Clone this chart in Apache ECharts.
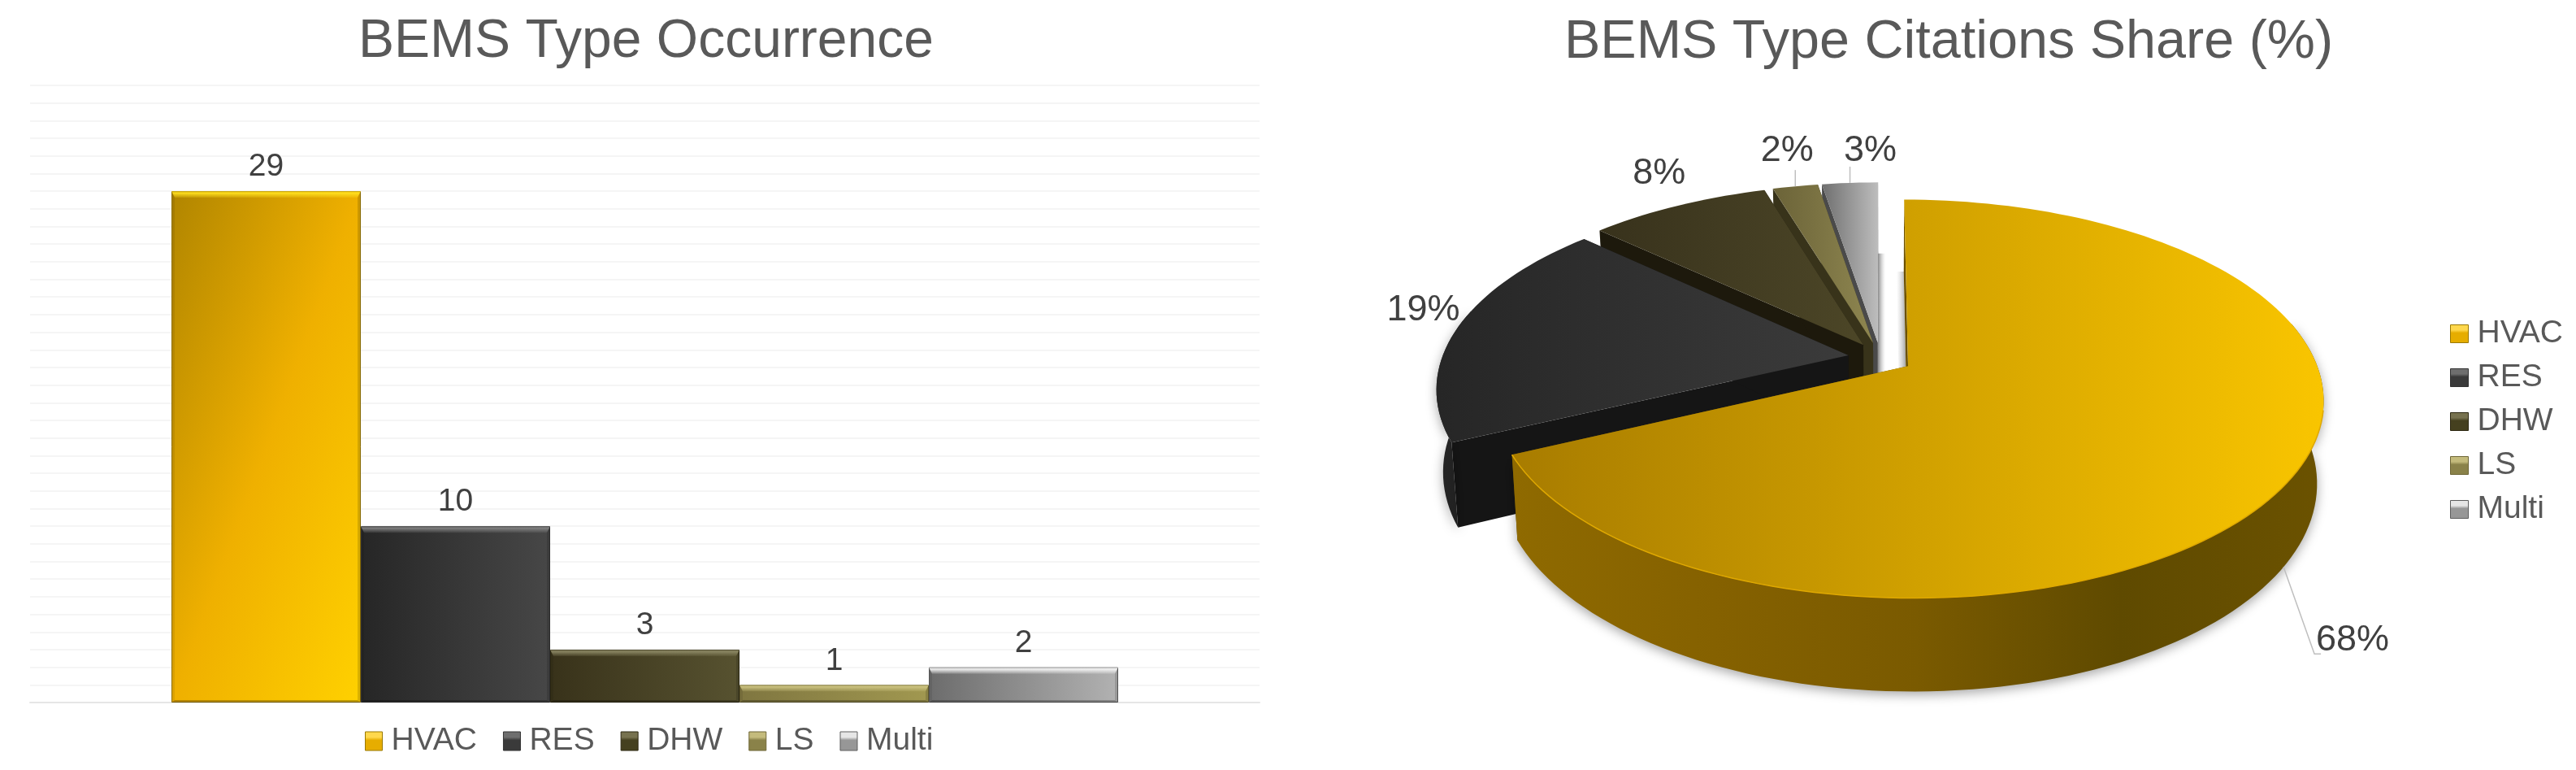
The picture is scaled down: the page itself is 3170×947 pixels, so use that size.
<!DOCTYPE html>
<html lang="en">

<head>
    <meta charset="UTF-8">
    <title>BEMS Type</title>
    <style>
        * {
            margin: 0;
            padding: 0;
        }

        html,
        body {
            height: 100%;
            background: #fff;
        }

        #box {
            width: 3170px;
            height: 947px;
        }
    </style>
    <script src="https://cdn.jsdelivr.net/npm/echarts@6/dist/echarts.min.js"></script>
</head>

<body>
    <div id="box"></div>

    <script>
        // data
        var types = ['HVAC', 'RES', 'DHW', 'LS', 'Multi'];
        var occurrence = [29, 10, 3, 1, 2];
        // unrounded estimates, the labels show them rounded
        var citationShare = [68, 18.9, 8.4, 2.1, 2.6];

        var fontName = '"Liberation Sans", Arial, sans-serif';
        var Gradient = echarts.graphic.LinearGradient;

        function hGrad(stops) {
            return new Gradient(0, 0, 1, 0, stops.map(function (c, i) {
                return { offset: i / (stops.length - 1), color: c };
            }));
        }

        // bar fills
        var barFill = [
            // corner to corner, so left-right counts as much as top-bottom on the tall bar
            new Gradient(0, 0, 1.76, 0.24, [
                { offset: 0, color: '#b08500' },
                { offset: 0.5, color: '#efb000' },
                { offset: 1, color: '#ffd100' }
            ]),
            hGrad(['#262626', '#474747']),
            hGrad(['#38321a', '#575230']),
            hGrad(['#7f7640', '#a19850']),
            hGrad(['#6c6c6c', '#b2b2b2'])
        ];
        var barBorder = ['#9a7800', '#333333', '#2d2812', '#6e6636', '#5e5e5e'];
        var bevelTop = ['255,224,32', '130,130,130', '140,136,100', '205,196,130', '245,245,245'];
        var legendTop = ['#ffd84d', '#6e6e6e', '#77724f', '#c4bb7c', '#e6e6e6'];
        var legendBody = ['#e6ad00', '#3a3a3a', '#45401f', '#8a8249', '#979797'];

        // pie fills
        var topFill = [
            hGrad(['#a87c00', '#f9c500']),
            hGrad(['#262626', '#3b3b3b']),
            hGrad(['#38321c', '#4c4627']),
            hGrad(['#6b6338', '#8e8650']),
            hGrad(['#6f6f6f', '#bdbdbd'])
        ];
        var wallFill = [
            hGrad(['#8f6a00', '#856100', '#7a5a00', '#5f4a00', '#6b5200']),
            hGrad(['#262626', '#1c1c1c']),
            hGrad(['#1f1b0d', '#1f1b0d']),
            hGrad(['#38331a', '#38331a']),
            hGrad(['#4a4a4a', '#4a4a4a'])
        ];
        var cutFill = ['#6b5000', '#151515', '#1d190c', '#38331a', '#4a4a4a'];

        // pie projection: a tilted disc seen in perspective
        var PIE = { cx: 2314, cy: 440, r: 500, explode: 40, tilt: 0.47, dist: 3055, depth: 99, shrink: 0.985 };

        // label offsets from the rim point in the middle of a slice
        var labelShift = [[85, 90], [-43, -21], [-23, -39], [-10, -44], [25, -39]];
        var leaderPath = [[[38, 107], [46, 107]], null, null, [[0, -20]], [[0, -20]]];
        var shadowSide = [-1, 0, 0, 0, 1];

        function project(X, Y, lower) {
            var s = PIE.dist / (PIE.dist - Y);
            var sx = X * s, sy = Y * PIE.tilt * s;
            if (lower) {
                sx *= PIE.shrink;
                sy = sy * PIE.shrink + PIE.depth * s;
            }
            return [PIE.cx + sx, PIE.cy + sy];
        }

        function renderSlice(i) {
            return function (params, api) {
                var total = citationShare.reduce(function (a, b) { return a + b; }, 0);
                var before = citationShare.slice(0, i).reduce(function (a, b) { return a + b; }, 0);
                var value = api.value(0);
                var a0 = before / total * Math.PI * 2;
                var a1 = (before + value) / total * Math.PI * 2;
                var mid = (a0 + a1) / 2;
                var ex = PIE.explode * Math.sin(mid), ey = -PIE.explode * Math.cos(mid);

                function rim(a, lower) {
                    return project(PIE.r * Math.sin(a) + ex, -PIE.r * Math.cos(a) + ey, lower);
                }
                function apex(lower) {
                    return project(ex, ey, lower);
                }

                var arc = [], frontTop = [], frontLow = [], brightEdge = [];
                var steps = Math.max(4, Math.ceil((a1 - a0) / 0.03));
                for (var k = 0; k <= steps; k++) {
                    var a = a0 + (a1 - a0) * k / steps;
                    arc.push(rim(a, false));
                    if (-Math.cos(a) > -0.25) {
                        frontTop.push(rim(a, false));
                        frontLow.unshift(rim(a, true));
                    }
                    if (-Math.cos(a) > 0.2) {
                        brightEdge.push(rim(a, false));
                    }
                }

                var kids = [];

                // soft shadow strip next to the gap between HVAC and Multi
                if (shadowSide[i]) {
                    var edge = i === 0 ? a0 : a1;
                    var w = shadowSide[i] * 9;
                    var p = rim(edge, true), q = apex(true);
                    kids.push({
                        type: 'polygon',
                        shape: { points: [p, [p[0] + w, p[1]], [q[0] + w, q[1]], q] },
                        style: {
                            fill: new Gradient(w > 0 ? 0 : 1, 0, w > 0 ? 1 : 0, 0, [
                                { offset: 0, color: 'rgba(110,110,110,0.85)' },
                                { offset: 1, color: 'rgba(200,200,200,0)' }
                            ])
                        }
                    });
                }

                [a0, a1].forEach(function (edge) {
                    kids.push({
                        type: 'polygon',
                        shape: { points: [apex(false), rim(edge, false), rim(edge, true), apex(true)] },
                        style: { fill: cutFill[i] }
                    });
                });
                if (frontTop.length > 1) {
                    kids.push({
                        type: 'polygon',
                        shape: { points: frontTop.concat(frontLow) },
                        style: {
                            fill: wallFill[i],
                            shadowBlur: 14,
                            shadowColor: 'rgba(0,0,0,0.35)',
                            shadowOffsetY: 4
                        }
                    });
                }
                kids.push({
                    type: 'polygon',
                    shape: { points: [apex(false)].concat(arc) },
                    style: { fill: topFill[i] }
                });
                // thin bright edge along the front of the big slice
                if (i === 0) {
                    kids.push({
                        type: 'polyline',
                        shape: { points: brightEdge },
                        style: { stroke: '#dfa800', lineWidth: 1.5, fill: null }
                    });
                }

                // label and leader line
                var anchor = rim(mid, i === 0);
                var shift = labelShift[i];
                if (leaderPath[i]) {
                    var pts = [anchor].concat(leaderPath[i].map(function (d) {
                        return [anchor[0] + d[0], anchor[1] + d[1]];
                    }));
                    kids.push({
                        type: 'polyline',
                        shape: { points: pts },
                        style: { stroke: '#bfbfbf', lineWidth: 1.5, fill: null }
                    });
                }
                kids.push({
                    type: 'text',
                    style: {
                        x: anchor[0] + shift[0],
                        y: anchor[1] + shift[1],
                        text: Math.round(value) + '%',
                        fill: '#404040',
                        font: '45px ' + fontName,
                        align: 'center',
                        verticalAlign: 'middle'
                    }
                });
                return { type: 'group', children: kids };
            };
        }

        // bevel on top of the plain bars
        function renderBevel(params, api) {
            var i = api.value(2);
            var base = api.coord([0, 0]);
            var top = api.coord([0, api.value(1)]);
            var band = api.size([1, 0])[0];
            var w = band * (1 - 0.23) / types.length;
            var x0 = base[0] - w * types.length / 2 + w * i;
            var x1 = x0 + w;
            var y0 = top[1], y1 = base[1];
            var b = 8, side = 4;
            return {
                type: 'group',
                children: [{
                    type: 'polygon',
                    shape: { points: [[x0, y0], [x1, y0], [x1 - side, y0 + b], [x0 + side, y0 + b]] },
                    style: {
                        fill: new Gradient(0, 0, 0, 1, [
                            { offset: 0, color: 'rgba(' + bevelTop[i] + ',0.35)' },
                            { offset: 0.3, color: 'rgba(' + bevelTop[i] + ',0.95)' },
                            { offset: 1, color: 'rgba(' + bevelTop[i] + ',0.15)' }
                        ])
                    }
                }, {
                    type: 'polygon',
                    shape: { points: [[x0, y0], [x0 + side, y0 + b], [x0 + side, y1 - 3], [x0, y1]] },
                    style: { fill: 'rgba(0,0,0,0.08)' }
                }, {
                    type: 'polygon',
                    shape: { points: [[x1, y0], [x1 - side, y0 + b], [x1 - side, y1 - 3], [x1, y1]] },
                    style: { fill: 'rgba(0,0,0,0.14)' }
                }, {
                    type: 'polygon',
                    shape: { points: [[x0, y1], [x0 + side, y1 - 3], [x1 - side, y1 - 3], [x1, y1]] },
                    style: { fill: 'rgba(0,0,0,0.25)' }
                }]
            };
        }

        function legendData() {
            return types.map(function (name, i) {
                return {
                    name: name,
                    icon: 'rect',
                    itemStyle: {
                        borderWidth: 1,
                        borderColor: barBorder[i],
                        color: new Gradient(0, 0, 0, 1, [
                            { offset: 0, color: legendTop[i] },
                            { offset: 0.3, color: legendTop[i] },
                            { offset: 0.45, color: legendBody[i] },
                            { offset: 1, color: legendBody[i] }
                        ])
                    }
                };
            });
        }

        var legendText = { fontFamily: fontName, fontSize: 39, color: '#595959', padding: [0, 0, 0, 6] };

        var barSeries = types.map(function (name, i) {
            return {
                name: name,
                type: 'bar',
                barGap: 0,
                barCategoryGap: '23%',
                data: [occurrence[i]],
                itemStyle: { color: barFill[i], borderColor: barBorder[i], borderWidth: 1 },
                label: {
                    show: true,
                    position: 'top',
                    distance: 10,
                    fontFamily: fontName,
                    fontSize: 39,
                    color: '#404040'
                }
            };
        });

        var bevelSeries = {
            type: 'custom',
            renderItem: renderBevel,
            silent: true,
            z: 5,
            encode: { x: 0, y: 1 },
            data: occurrence.map(function (v, i) { return [0, v, i]; })
        };

        var pieSeries = types.map(function (name, i) {
            return {
                name: name,
                type: 'custom',
                coordinateSystem: 'none',
                renderItem: renderSlice(i),
                silent: true,
                z: 10 - i,
                data: [[citationShare[i]]]
            };
        });

        var myChart = echarts.init(document.getElementById('box'), null, { renderer: 'canvas' });

        myChart.setOption({
            animation: false,
            backgroundColor: '#fff',
            title: [{
                text: 'BEMS Type Occurrence',
                left: 790,
                top: 14,
                textAlign: 'center',
                textStyle: { fontFamily: fontName, fontSize: 66, fontWeight: 'normal', color: '#595959' }
            }, {
                text: 'BEMS Type Citations Share (%)',
                left: 2393,
                top: 14,
                textAlign: 'center',
                textStyle: { fontFamily: fontName, fontSize: 66.5, fontWeight: 'normal', color: '#595959' }
            }],
            legend: [{
                data: legendData(),
                selectedMode: false,
                orient: 'horizontal',
                padding: 0,
                left: 449,
                top: 892,
                itemWidth: 21,
                itemHeight: 23,
                itemGap: 32,
                textStyle: legendText
            }, {
                data: legendData(),
                selectedMode: false,
                orient: 'vertical',
                padding: 0,
                left: 3015,
                top: 391,
                itemWidth: 22,
                itemHeight: 22,
                itemGap: 15,
                textStyle: legendText
            }],
            grid: { left: 37, top: 105, width: 1513, height: 759 },
            xAxis: {
                type: 'category',
                data: ['BEMS'],
                axisLabel: { show: false },
                axisTick: { show: false },
                axisLine: { lineStyle: { color: '#e6e6e6', width: 2 } }
            },
            yAxis: {
                type: 'value',
                min: 0,
                max: 35,
                interval: 1,
                axisLabel: { show: false },
                axisTick: { show: false },
                axisLine: { show: false },
                splitLine: { lineStyle: { color: '#f5f5f5', width: 2 } }
            },
            series: barSeries.concat([bevelSeries]).concat(pieSeries)
        });

        window.onresize = function () {
            myChart.resize();
        }
    </script>
</body>

</html>
